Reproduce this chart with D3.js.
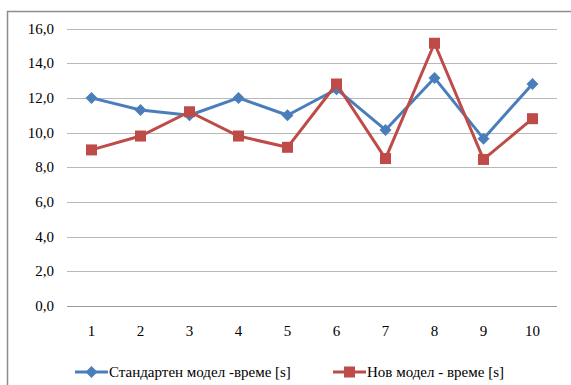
<!DOCTYPE html>
<html>
<head>
<meta charset="utf-8">
<script src="https://cdn.jsdelivr.net/npm/d3@7"></script>
<style>
  body { margin: 0; background: #fff; }
</style>
</head>
<body>
<div id="chart"></div>
<script>
// Данные графика
const categories = ['1', '2', '3', '4', '5', '6', '7', '8', '9', '10'];
const standardTimes = [12.0, 11.3, 11.0, 12.0, 11.0, 12.5, 10.15, 13.15, 9.65, 12.8];
const newTimes      = [9.0, 9.8, 11.2, 9.8, 9.15, 12.8, 8.5, 15.15, 8.45, 10.8];
const yTicks = [0, 2, 4, 6, 8, 10, 12, 14, 16];
const seriesNames = ['Стандартен модел -време [s]', 'Нов модел - време [s]'];

const W = 571, H = 385;
const margin = { top: 28.5, right: 14, bottom: 79, left: 67 };
const FONT = "'Liberation Serif', 'Times New Roman', 'DejaVu Serif', serif";

const svg = d3.select('#chart').append('svg').attr('width', W).attr('height', H)
  .style('display', 'block');

// рамка (выходит за края)
svg.append('rect')
  .attr('x', 7.5).attr('y', 11.5)
  .attr('width', W + 10).attr('height', H + 10)
  .attr('fill', 'none').attr('stroke', '#8c8c8c').attr('stroke-width', 1.5);

const x = d3.scaleBand().domain(categories).range([margin.left, W - margin.right]);
const y = d3.scaleLinear().domain([0, 16]).range([H - margin.bottom, margin.top]);

// сетка
svg.append('g').selectAll('line').data(yTicks).join('line')
  .attr('x1', margin.left).attr('x2', W - margin.right)
  .attr('y1', d => Math.round(y(d)) + 0.5).attr('y2', d => Math.round(y(d)) + 0.5)
  .attr('stroke', d => d === 0 ? '#999' : '#b8b8b8').attr('stroke-width', 1);

// подписи оси Y
svg.append('g').selectAll('text').data(yTicks).join('text')
  .attr('x', 54).attr('y', d => y(d) + 5)
  .attr('text-anchor', 'end').attr('font-size', 15).attr('font-family', FONT).attr('fill', '#000')
  .text(d => d.toFixed(1).replace('.', ','));

// подписи оси X
svg.append('g').selectAll('text').data(categories).join('text')
  .attr('x', d => x(d) + x.bandwidth() / 2).attr('y', H - margin.bottom + 30)
  .attr('text-anchor', 'middle').attr('font-size', 15).attr('font-family', FONT).attr('fill', '#000')
  .text(d => d);

const cx = i => x(categories[i]) + x.bandwidth() / 2;
const line = d3.line().x((d, i) => cx(i)).y(d => y(d));

const series = [
  { name: seriesNames[0], values: standardTimes, color: '#4a7ebb', shape: 'diamond' },
  { name: seriesNames[1], values: newTimes, color: '#be4b48', shape: 'square' },
];

function marker(g, shape, color) {
  if (shape === 'diamond') {
    g.append('path').attr('d', 'M0,-6L6,0L0,6L-6,0Z').attr('fill', color);
  } else {
    g.append('rect').attr('x', -5.5).attr('y', -5.5).attr('width', 11).attr('height', 11).attr('fill', color);
  }
}

series.forEach(s => {
  svg.append('path').datum(s.values)
    .attr('d', line).attr('fill', 'none')
    .attr('stroke', s.color).attr('stroke-width', 3).attr('stroke-linejoin', 'round');
  s.values.forEach((v, i) => {
    const g = svg.append('g').attr('transform', `translate(${cx(i)},${y(v)})`);
    marker(g, s.shape, s.color);
  });
});

// легенда
const legendX = [75, 333];
series.forEach((s, i) => {
  const g = svg.append('g').attr('transform', `translate(${legendX[i]},372)`);
  g.append('line').attr('x1', 0).attr('x2', 33).attr('stroke', s.color).attr('stroke-width', 3);
  const m = g.append('g').attr('transform', 'translate(16.5,0)');
  marker(m, s.shape, s.color);
  g.append('text').attr('x', 34).attr('y', 5).attr('font-size', 15).attr('font-family', FONT)
    .attr('fill', '#000').text(s.name);
});
</script>
</body>
</html>
